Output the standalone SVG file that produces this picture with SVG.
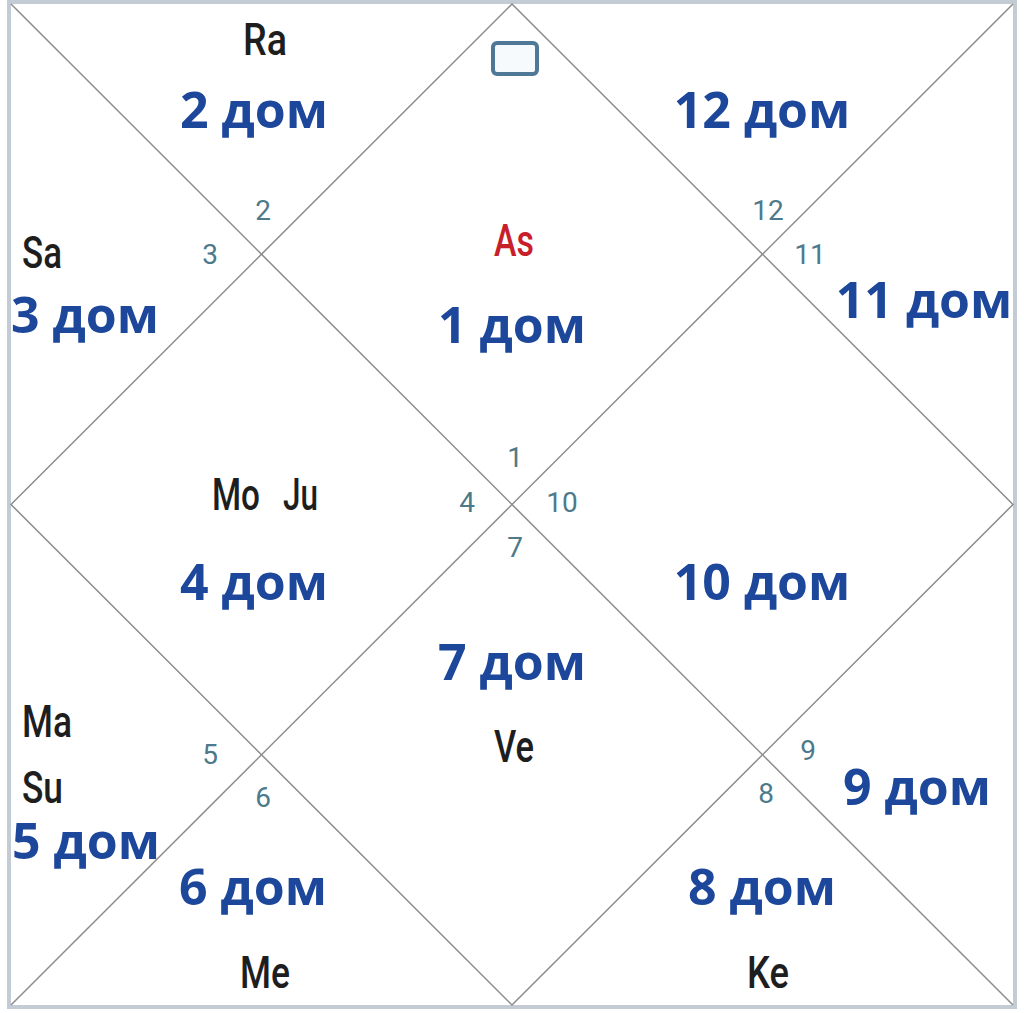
<svg xmlns="http://www.w3.org/2000/svg" width="1024" height="1013" viewBox="0 0 1024 1013">
<style>
.dom{font-family:"Open Sans","Noto Sans",sans-serif;font-weight:700;font-size:50px;fill:#1d479b;text-anchor:middle}
.pl{font-family:Roboto,"Liberation Sans",sans-serif;font-weight:500;font-size:44px;fill:#1e1e1e}
.num{font-family:Roboto,"Liberation Sans",sans-serif;font-size:28px;fill:#4d7a8a;text-anchor:middle}
.ln{stroke:#8c8c8c;stroke-width:1.5;fill:none}
</style>
<rect x="0" y="0" width="1024" height="1013" fill="#ffffff"/>
<g id="frame">
<rect x="9" y="2" width="1006" height="1005" fill="#ffffff" stroke="#c3ccd5" stroke-width="4"/>
</g>
<g id="connectors">
<line class="ln" x1="11" y1="4" x2="1013" y2="1005"/>
<line class="ln" x1="1013" y1="4" x2="11" y2="1005"/>
<polygon class="ln" points="512,4 1013,504.5 512,1005 11,504.5"/>
</g>
<g id="house1">
<rect x="493" y="43" width="44" height="31" rx="4" fill="#f7fafd" stroke="#4f7896" stroke-width="4"/>
<text class="pl" x="514" y="256" text-anchor="middle" style="fill:#c8202a" textLength="40" lengthAdjust="spacingAndGlyphs">As</text>
<text class="dom" x="512" y="343">1 дом</text>
<text class="num" x="515" y="467">1</text>
</g>
<g id="house2">
<text class="pl" x="265" y="55" text-anchor="middle" textLength="44" lengthAdjust="spacingAndGlyphs">Ra</text>
<text class="dom" x="254" y="128">2 дом</text>
<text class="num" x="263" y="220">2</text>
</g>
<g id="house3">
<text class="pl" x="22" y="268" textLength="40" lengthAdjust="spacingAndGlyphs">Sa</text>
<text class="dom" x="85" y="333">3 дом</text>
<text class="num" x="210" y="264">3</text>
</g>
<g id="house4">
<text class="pl" x="212" y="510" textLength="48" lengthAdjust="spacingAndGlyphs">Mo</text>
<text class="pl" x="283" y="510" textLength="35" lengthAdjust="spacingAndGlyphs">Ju</text>
<text class="dom" x="254" y="600">4 дом</text>
<text class="num" x="467" y="512">4</text>
</g>
<g id="house5">
<text class="pl" x="22" y="737" textLength="50" lengthAdjust="spacingAndGlyphs">Ma</text>
<text class="pl" x="22" y="803" textLength="41" lengthAdjust="spacingAndGlyphs">Su</text>
<text class="dom" x="86" y="859">5 дом</text>
<text class="num" x="210" y="764">5</text>
</g>
<g id="house6">
<text class="pl" x="265" y="988" text-anchor="middle" textLength="50" lengthAdjust="spacingAndGlyphs">Me</text>
<text class="dom" x="253" y="905">6 дом</text>
<text class="num" x="263" y="807">6</text>
</g>
<g id="house7">
<text class="pl" x="514" y="762" text-anchor="middle" textLength="40" lengthAdjust="spacingAndGlyphs">Ve</text>
<text class="dom" x="512" y="680">7 дом</text>
<text class="num" x="515" y="557">7</text>
</g>
<g id="house8">
<text class="pl" x="768" y="988" text-anchor="middle" textLength="42" lengthAdjust="spacingAndGlyphs">Ke</text>
<text class="dom" x="762" y="905">8 дом</text>
<text class="num" x="766" y="803">8</text>
</g>
<g id="house9">
<text class="dom" x="917" y="805">9 дом</text>
<text class="num" x="808" y="760">9</text>
</g>
<g id="house10">
<text class="dom" x="762" y="600">10 дом</text>
<text class="num" x="562" y="512">10</text>
</g>
<g id="house11">
<text class="dom" x="924" y="318">11 дом</text>
<text class="num" x="810" y="264">11</text>
</g>
<g id="house12">
<text class="dom" x="762" y="128">12 дом</text>
<text class="num" x="768" y="220">12</text>
</g>
</svg>
